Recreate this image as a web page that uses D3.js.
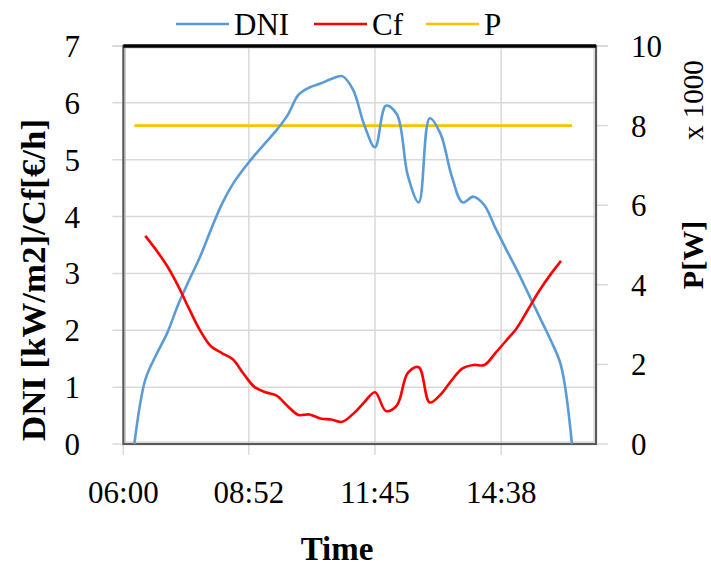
<!DOCTYPE html>
<html>
<head>
<meta charset="utf-8">
<script src="https://cdn.jsdelivr.net/npm/d3@7"></script>
<style>
  html, body { margin: 0; padding: 0; background: #fff; }
  svg text { font-family: "Liberation Serif", "Times New Roman", serif; fill: #000; }
</style>
</head>
<body>
<svg id="chart" width="711" height="566"></svg>
<script>
// ---- data ----
const dniTimes = ["06:15","06:30","06:45","07:00","07:15","07:30","07:45","08:00","08:15","08:30","08:45",
  "09:00","09:15","09:30","09:45","10:00","10:15","10:30","10:45","11:00","11:15","11:30","11:45",
  "12:00","12:15","12:30","12:45","13:00","13:15","13:30","13:45","14:00","14:15","14:30","14:45",
  "15:00","15:15","15:30","15:45","16:00","16:15"];
const dniValues = [0, 1.13, 1.57, 1.95, 2.45, 2.88, 3.29, 3.77, 4.22, 4.57, 4.84,
  5.08, 5.30, 5.52, 5.78, 6.14, 6.27, 6.34, 6.42, 6.47, 6.23, 5.62, 5.22,
  5.95, 5.80, 4.72, 4.25, 5.73, 5.45, 4.72, 4.25, 4.35, 4.20, 3.80, 3.42,
  3.05, 2.65, 2.25, 1.85, 1.38, 0];

const cfTimes = ["06:30","06:45","07:00","07:15","07:30","07:45","08:00","08:15","08:30","08:45",
  "09:00","09:15","09:30","09:45","10:00","10:15","10:30","10:45","11:00","11:15","11:30","11:45",
  "12:00","12:15","12:30","12:45","13:00","13:15","13:30","13:45","14:00","14:15","14:30","14:45",
  "15:00","15:15","15:30","15:45","16:00"];
const cfValues = [3.66, 3.41, 3.13, 2.78, 2.38, 2.00, 1.72, 1.60, 1.49, 1.23,
  1.00, 0.91, 0.85, 0.67, 0.51, 0.52, 0.45, 0.43, 0.39, 0.53, 0.73, 0.91,
  0.58, 0.68, 1.25, 1.35, 0.73, 0.87, 1.12, 1.33, 1.39, 1.39, 1.60, 1.82,
  2.05, 2.37, 2.69, 2.97, 3.22];

const pTimes = dniTimes;
const pValues = [8000,8000,8000,8000,8000,8000,8000,8000,8000,8000,8000,
  8000,8000,8000,8000,8000,8000,8000,8000,8000,8000,8000,8000,
  8000,8000,8000,8000,8000,8000,8000,8000,8000,8000,8000,8000,
  8000,8000,8000,8000,8000,8000];

const xTickTimes = ["06:00","08:52","11:45","14:38"];   // axis 0.25 .. 0.70 day, step 0.12 day
const leftTicks = [0,1,2,3,4,5,6,7];
const rightTicks = [0,2000,4000,6000,8000,10000];
const seriesNames = ["DNI","Cf","P"];
const seriesColors = ["#5b9bd5","#ff0000","#ffc000"];

// ---- helpers ----
const toMin = s => { const [h,m] = s.split(":").map(Number); return h*60+m; };
const dayMin = 1440;

// ---- layout ----
const svg = d3.select("#chart");
const L = 123.4, R = 596, T = 46, B = 444;

const x = d3.scaleLinear().domain([0.25*dayMin, 0.70*dayMin]).range([L, R]);
const yL = d3.scaleLinear().domain([0, 7]).range([B, T]);
const yR = d3.scaleLinear().domain([0, 10000]).range([B, T]);
const xTickVals = xTickTimes.map(toMin);

const grid = "#d9d9d9";
// horizontal gridlines
svg.append("g").selectAll("line").data(leftTicks).join("line")
  .attr("x1", L - 11).attr("x2", R)
  .attr("y1", d => yL(d)).attr("y2", d => yL(d))
  .attr("stroke", grid).attr("stroke-width", 1.5);
// vertical gridlines + ticks
svg.append("g").selectAll("line").data(xTickVals).join("line")
  .attr("x1", d => x(d)).attr("x2", d => x(d))
  .attr("y1", T).attr("y2", B + 11)
  .attr("stroke", grid).attr("stroke-width", 1.5);
// right axis ticks
svg.append("g").selectAll("line").data(rightTicks).join("line")
  .attr("x1", R).attr("x2", R + 12)
  .attr("y1", d => yR(d)).attr("y2", d => yR(d))
  .attr("stroke", grid).attr("stroke-width", 1.5);
// top axis-like extension
svg.append("line").attr("x1", L - 11).attr("x2", R + 12).attr("y1", T).attr("y2", T)
  .attr("stroke", grid).attr("stroke-width", 1.5);

// frame
svg.append("rect").attr("x", L).attr("y", T).attr("width", R - L).attr("height", B - T)
  .attr("fill", "none").attr("stroke", "#595959").attr("stroke-width", 2.2);
svg.append("rect").attr("x", L + 2).attr("y", T + 2).attr("width", R - L - 4).attr("height", B - T - 4)
  .attr("fill", "none").attr("stroke", "#c8c8c8").attr("stroke-width", 1);
svg.append("line").attr("x1", L).attr("x2", R).attr("y1", T).attr("y2", T)
  .attr("stroke", "#000").attr("stroke-width", 3.5);

// series
const curve = d3.curveCatmullRom.alpha(0.5);
const lineL = d3.line().x(d => x(d.t)).y(d => yL(d.v)).curve(curve);
const lineR = d3.line().x(d => x(d.t)).y(d => yR(d.v)).curve(curve);
const dniData = dniTimes.map((t,i) => ({t: toMin(t), v: dniValues[i]}));
const cfData = cfTimes.map((t,i) => ({t: toMin(t), v: cfValues[i]}));
const pData = pTimes.map((t,i) => ({t: toMin(t), v: pValues[i]}));

const plot = svg.append("g");
plot.append("path").datum(pData).attr("d", lineR).attr("fill","none")
  .attr("stroke", seriesColors[2]).attr("stroke-width", 2.6);
plot.append("path").datum(dniData).attr("d", lineL).attr("fill","none")
  .attr("stroke", seriesColors[0]).attr("stroke-width", 2.6).attr("stroke-linejoin","round");
plot.append("path").datum(cfData).attr("d", lineL).attr("fill","none")
  .attr("stroke", seriesColors[1]).attr("stroke-width", 2.6).attr("stroke-linejoin","round");

// tick labels
const fs = 31;
svg.append("g").selectAll("text").data(leftTicks).join("text")
  .attr("x", 80).attr("y", d => yL(d) + 11)
  .attr("text-anchor", "end").attr("font-size", fs).text(d => d);
svg.append("g").selectAll("text").data(rightTicks).join("text")
  .attr("x", 631).attr("y", d => yR(d) + 11)
  .attr("text-anchor", "start").attr("font-size", fs).text(d => d/1000);
svg.append("g").selectAll("text").data(xTickTimes).join("text")
  .attr("x", d => x(toMin(d))).attr("y", 503)
  .attr("text-anchor", "middle").attr("font-size", fs).text(d => d);

// axis titles
svg.append("text").attr("x", 337).attr("y", 560).attr("text-anchor", "middle")
  .attr("font-size", 33).attr("font-weight", "bold").text("Time");
svg.append("text").attr("transform", "translate(45,280) rotate(-90)").attr("text-anchor", "middle")
  .attr("font-size", 33).attr("font-weight", "bold")
  .attr("textLength", 322).attr("lengthAdjust", "spacingAndGlyphs")
  .text("DNI [kW/m2]/Cf[€/h]");
svg.append("text").attr("transform", "translate(703,255) rotate(-90)").attr("text-anchor", "middle")
  .attr("font-size", 30).attr("font-weight", "bold").text("P[W]");
svg.append("text").attr("transform", "translate(703,100) rotate(-90)").attr("text-anchor", "middle")
  .attr("font-size", 29).text("x 1000");

// legend
const legX = [176, 314, 426];
const leg = svg.append("g");
seriesNames.forEach((n, i) => {
  leg.append("line").attr("x1", legX[i]).attr("x2", legX[i] + 53).attr("y1", 24).attr("y2", 24)
    .attr("stroke", seriesColors[i]).attr("stroke-width", 2.6);
  leg.append("text").attr("x", legX[i] + 58).attr("y", 35).attr("font-size", 31).text(n);
});
</script>
</body>
</html>
